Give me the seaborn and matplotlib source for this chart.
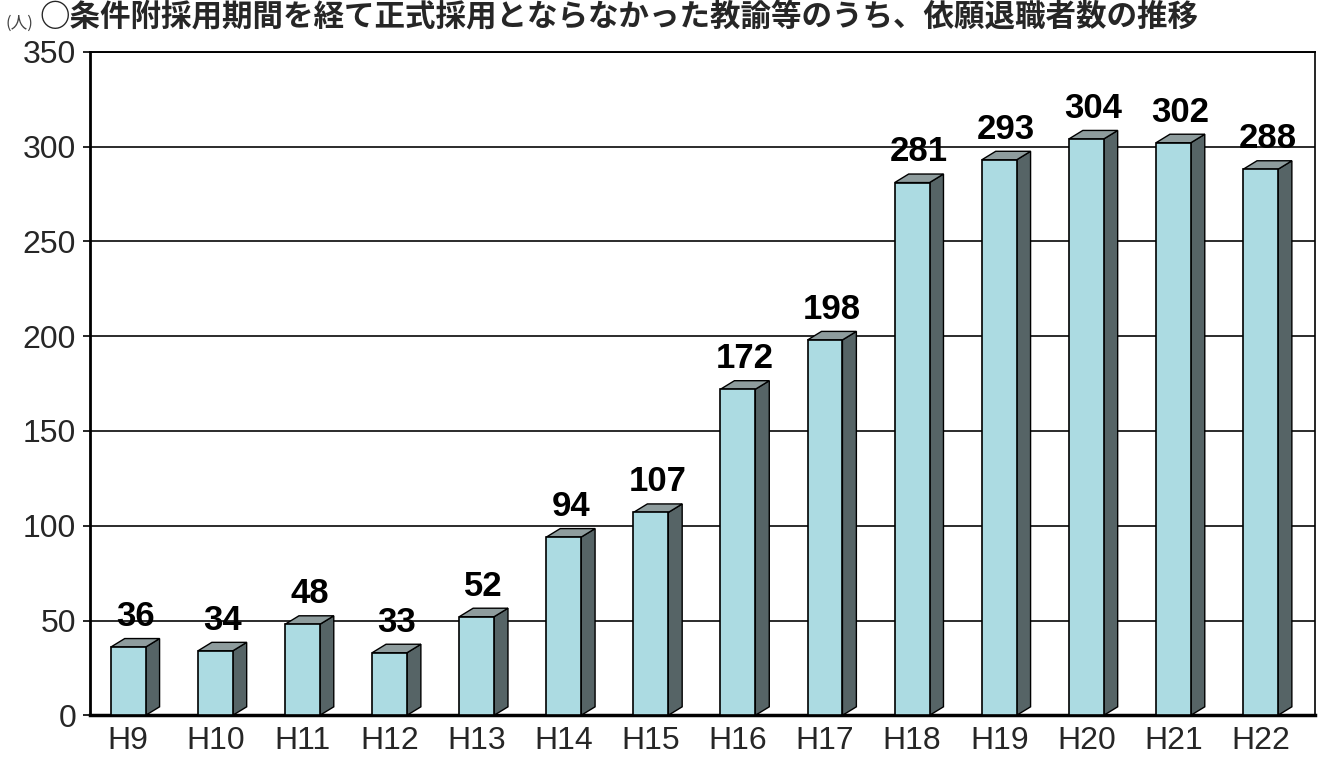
import numpy as np
import pandas as pd
import seaborn as sns
import matplotlib.pyplot as plt
from matplotlib.patches import Polygon

# data
years = ["H9", "H10", "H11", "H12", "H13", "H14", "H15",
         "H16", "H17", "H18", "H19", "H20", "H21", "H22"]
counts = [36, 34, 48, 33, 52, 94, 107, 172, 198, 281, 293, 304, 302, 288]
title = "○条件附採用期間を経て正式採用とならなかった教諭等のうち、依願退職者数の推移"
unit = "(人)"

sns.set_style("white")
plt.rcParams['font.family'] = ['Liberation Sans', 'Noto Sans CJK JP', 'DejaVu Sans']

fig = plt.figure(figsize=(13.22, 7.61), dpi=100)
ax = fig.add_axes([0.068, 0.06, 0.927, 0.872])

df = pd.DataFrame({"year": years, "count": counts})
sns.barplot(data=df, x="year", y="count", color="#acdbe2", width=0.4,
            edgecolor="black", linewidth=1.2, saturation=1, ax=ax, zorder=3)

# fake 3D depth: side and top faces drawn from each bar patch
dx, dy = 0.16, 4.5
for p in list(ax.patches):
    x0, w, h = p.get_x(), p.get_width(), p.get_height()
    side = Polygon([(x0 + w, 0), (x0 + w + dx, dy), (x0 + w + dx, h + dy), (x0 + w, h)],
                   closed=True, facecolor="#566466", edgecolor="black", lw=1.0, zorder=2)
    top = Polygon([(x0, h), (x0 + dx, h + dy), (x0 + w + dx, h + dy), (x0 + w, h)],
                  closed=True, facecolor="#8e9c9d", edgecolor="black", lw=1.0, zorder=2)
    ax.add_patch(side)
    ax.add_patch(top)
    ax.text(x0 + (w + dx) / 2, h + dy + 3, f"{int(h)}", ha="center", va="bottom",
            fontsize=25, fontweight="bold", color="black", zorder=4)

ax.set_xlim(-0.44, len(years) - 1 + 0.63)
ax.set_ylim(0, 350)
ax.set_yticks(np.arange(0, 351, 50))
ax.yaxis.grid(True, color="#2b2b2b", lw=1.4)
ax.set_axisbelow(True)
ax.set_xlabel("")
ax.set_ylabel("")

ax.set_xticks(np.arange(len(years) - 1) + 0.5, minor=True)
ax.tick_params(axis="x", which="major", length=0, pad=8, labelsize=23)
ax.tick_params(axis="x", which="minor", direction="inout", length=12, width=1.2, color="black")
ax.tick_params(axis="y", which="major", direction="out", length=5, width=1.2,
               color="black", labelsize=23, left=True, pad=5)

for s in ["left", "bottom", "right", "top"]:
    ax.spines[s].set_visible(True)
    ax.spines[s].set_color("black")
ax.spines["left"].set_linewidth(2.0)
ax.spines["bottom"].set_linewidth(2.5)
ax.spines["right"].set_linewidth(1.2)
ax.spines["top"].set_linewidth(1.4)

fig.text(0.03, 1.0, title, ha="left", va="top", fontsize=22, fontweight="bold",
         family=['Noto Sans CJK JP', 'DejaVu Sans'])
fig.text(0.004, 0.97, unit, ha="left", va="center", fontsize=12,
         family=['Noto Sans CJK JP', 'DejaVu Sans'], color="#444444")

fig.savefig("out.png", dpi=100)
